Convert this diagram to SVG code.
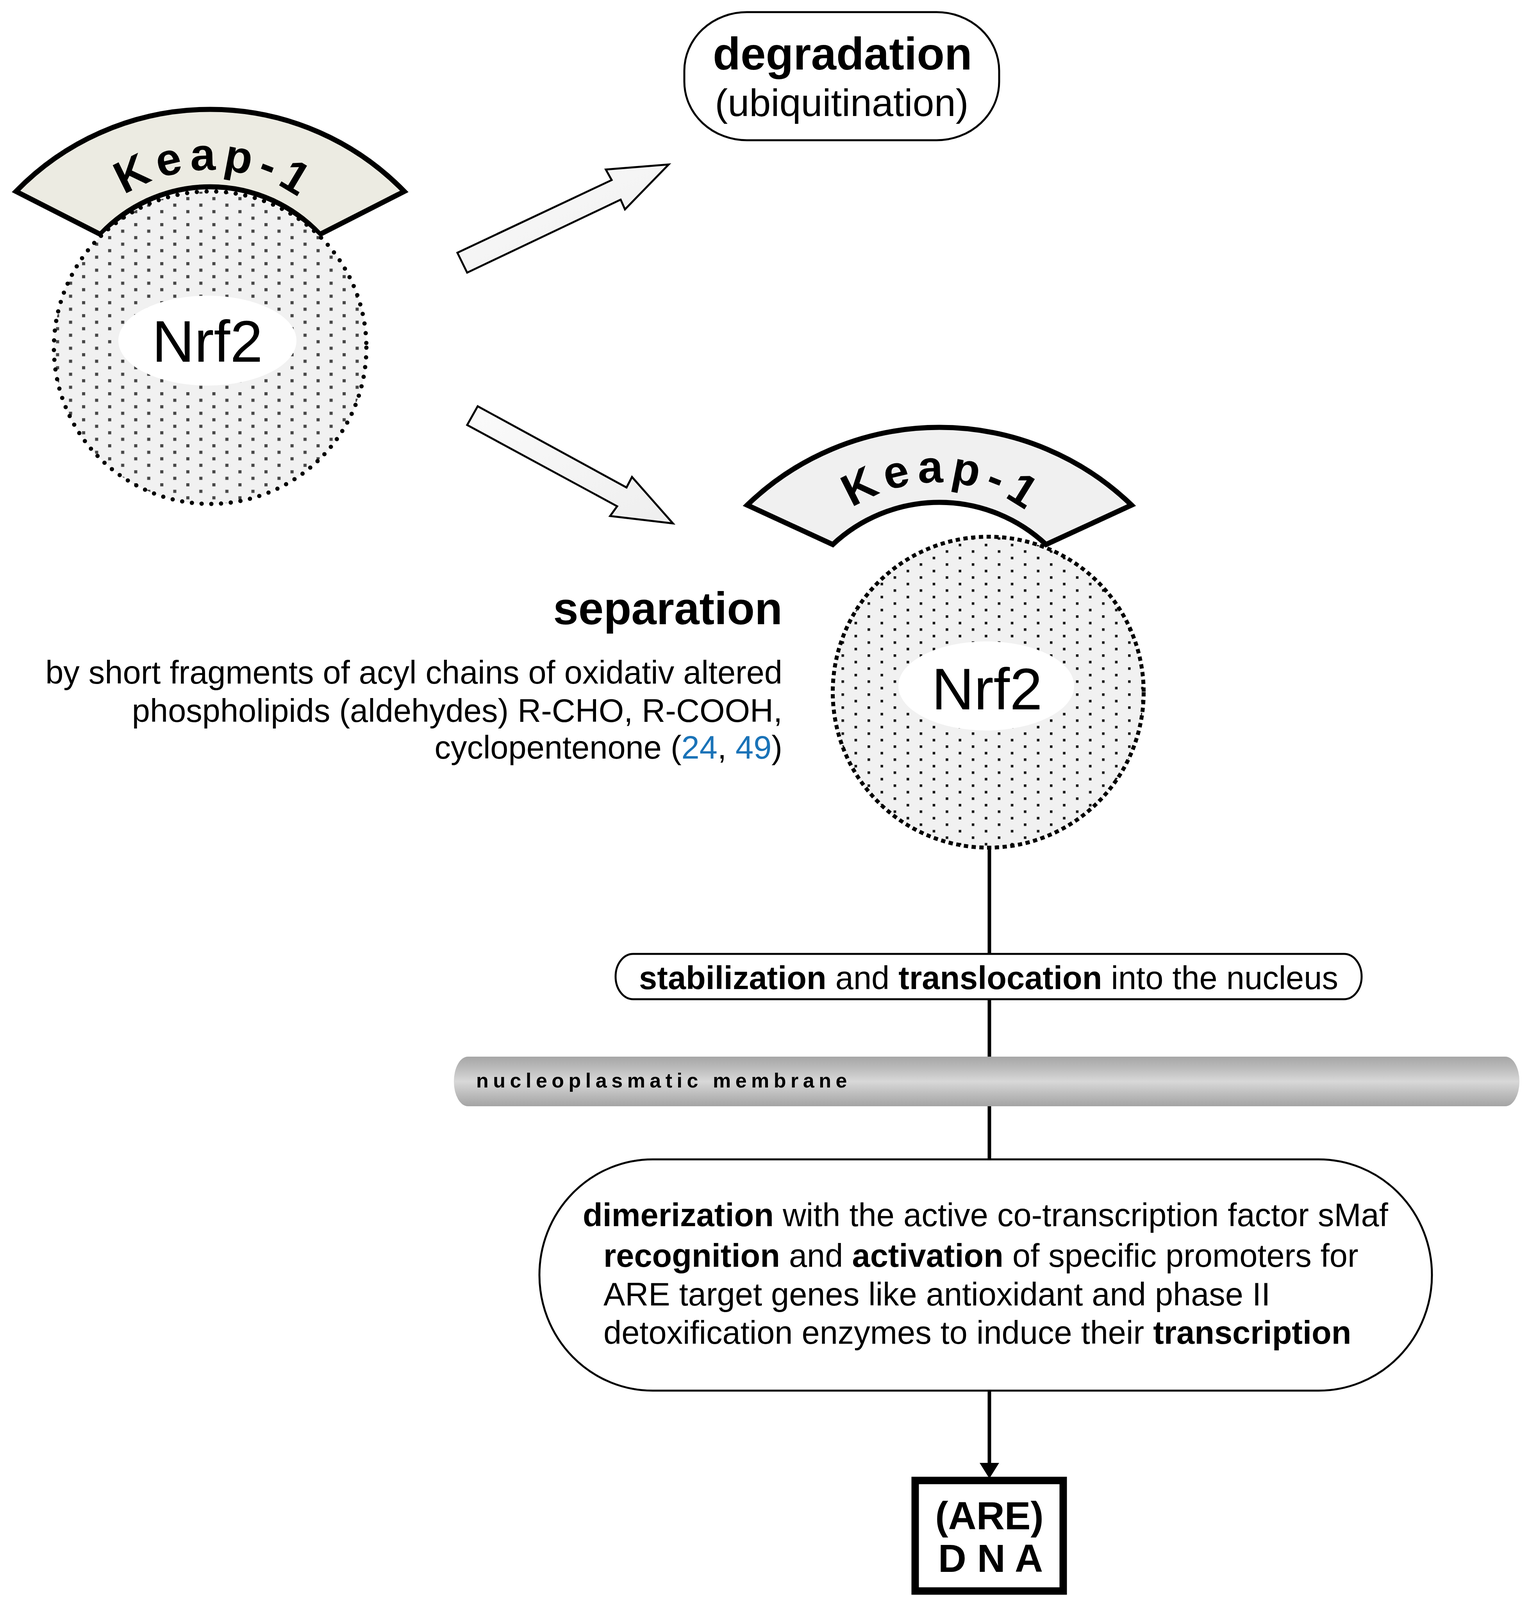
<svg xmlns="http://www.w3.org/2000/svg" width="3935" height="4119" viewBox="0 0 3935 4119">
<style>
text{font-family:"Liberation Sans",Arial,sans-serif;fill:#000}
.b{font-weight:bold}
.keap{font-size:116px;font-weight:bold;letter-spacing:17px}
.nrf{font-size:150px}
.body{font-size:83px}
.box{fill:#fff;stroke:#000;stroke-width:5}
.conn{stroke:#000;stroke-width:9;fill:none}
.blk{stroke:#000;stroke-width:5;stroke-linejoin:miter;fill:url(#arrowFill)}
.ref{fill:#1a73b8}
</style>
<defs>
<pattern id="dotsL" patternUnits="userSpaceOnUse" width="66.7" height="33.3" x="10" y="5">
<rect x="0" y="0" width="8" height="8" fill="#474747"/>
<rect x="33.3" y="16.7" width="8" height="8" fill="#474747"/>
</pattern>
<pattern id="dotsR" patternUnits="userSpaceOnUse" width="66.7" height="33.3" x="20" y="10">
<rect x="0" y="0" width="6.5" height="6.5" fill="#111"/>
<rect x="33.3" y="16.7" width="6.5" height="6.5" fill="#111"/>
</pattern>
<linearGradient id="arrowFill" x1="0" y1="0" x2="1" y2="1">
<stop offset="0" stop-color="#fbfbfb"/>
<stop offset="1" stop-color="#eeeeee"/>
</linearGradient>
<linearGradient id="memFill" x1="0" y1="0" x2="0" y2="1">
<stop offset="0" stop-color="#a6a6a6"/>
<stop offset="0.2" stop-color="#b8b8b8"/>
<stop offset="0.5" stop-color="#d8d8d8"/>
<stop offset="0.8" stop-color="#b8b8b8"/>
<stop offset="1" stop-color="#a4a4a4"/>
</linearGradient>
<marker id="ah" markerUnits="userSpaceOnUse" markerWidth="40" markerHeight="50" viewBox="0 0 40 50" refX="0" refY="25" orient="auto">
<path d="M0,0 L40,25 L0,50 Z" fill="#000"/>
</marker>
<path id="arcL" d="M144.1,765.5 A400,400 0 0,1 931.9,765.5" fill="none"/>
<path id="arcR" d="M2015.9,1557.3 A390,390 0 0,1 2784.1,1557.3" fill="none"/>
</defs>
<rect width="3935" height="4119" fill="#fff"/>

<g id="connectors">
<polygon class="blk" points="1171,647 1566,461 1551,434 1712,421 1600,536 1589,511 1196,698"/>
<polygon class="blk" points="1223,1040 1604,1248 1618,1221 1723,1340 1562,1321 1580,1296 1196,1088"/>
<line class="conn" x1="2533" y1="2168" x2="2533" y2="2444"/>
<line class="conn" x1="2533" y1="2556" x2="2533" y2="2707"/>
<line class="conn" x1="2533" y1="2830" x2="2533" y2="2970"/>
<line class="conn" x1="2533" y1="3558" x2="2533" y2="3745" marker-end="url(#ah)"/>
</g>

<g id="keap1-nrf2-bound">
<path d="M41,490 A693,693 0 0,1 1035,490 L819,600 A385,385 0 0,0 257,600 Z" fill="#ecebe2" stroke="#000" stroke-width="13" stroke-linejoin="miter"/>
<text class="keap"><textPath href="#arcL" startOffset="570" text-anchor="middle">Keap-1</textPath></text>
<circle cx="538" cy="890" r="400" fill="#f1f1f1"/>
<circle cx="538" cy="890" r="400" fill="url(#dotsL)"/>
<circle cx="538" cy="890" r="400" fill="none" stroke="#000" stroke-width="11" stroke-linecap="round" stroke-dasharray="0 25"/>
<ellipse cx="531" cy="872" rx="228" ry="115" fill="#fff"/>
<text class="nrf" x="531" y="926" text-anchor="middle">Nrf2</text>
</g>

<g id="degradation">
<rect class="box" x="1752" y="31" width="806" height="328" rx="160" ry="150"/>
<text class="b" x="2157" y="178" font-size="116" text-anchor="middle">degradation</text>
<text x="2155" y="297" font-size="99" text-anchor="middle">(ubiquitination)</text>
</g>

<g id="keap1-nrf2-separated">
<path d="M1913,1293 A708,708 0 0,1 2897,1293 L2678,1394 A399,399 0 0,0 2132,1394 Z" fill="#f0f0f0" stroke="#000" stroke-width="13" stroke-linejoin="miter"/>
<text class="keap"><textPath href="#arcR" startOffset="557" text-anchor="middle">Keap-1</textPath></text>
<circle cx="2530" cy="1772" r="398" fill="#f1f1f1"/>
<circle cx="2530" cy="1772" r="398" fill="url(#dotsR)"/>
<circle cx="2530" cy="1772" r="398" fill="none" stroke="#000" stroke-width="10" stroke-dasharray="11 8.9"/>
<ellipse cx="2525" cy="1756" rx="225" ry="114" fill="#fff"/>
<text class="nrf" x="2527" y="1816" text-anchor="middle">Nrf2</text>
</g>

<g id="separation">
<text class="b" x="2003" y="1598" font-size="116" text-anchor="end">separation</text>
<text class="body" x="2003" y="1750" text-anchor="end">by short fragments of acyl chains of oxidativ altered</text>
<text class="body" x="2003" y="1848" text-anchor="end">phospholipids (aldehydes) R-CHO, R-COOH,</text>
<text class="body" x="2003" y="1942" text-anchor="end">cyclopentenone (<tspan class="ref">24</tspan>, <tspan class="ref">49</tspan>)</text>
</g>

<g id="stabilization">
<rect class="box" x="1576" y="2442" width="1910" height="116" rx="45" ry="58"/>
<text x="2531" y="2532" font-size="83" text-anchor="middle"><tspan class="b">stabilization</tspan> and <tspan class="b">translocation</tspan> into the nucleus</text>
</g>

<g id="membrane">
<rect x="1162" y="2705" width="2728" height="127" rx="36" ry="63" fill="url(#memFill)"/>
<text class="b" x="1219" y="2784" font-size="52" letter-spacing="11.5" fill="#111">nucleoplasmatic membrane</text>
</g>

<g id="dimerization">
<rect class="box" x="1381" y="2968" width="2285" height="592" rx="290" ry="296"/>
<text class="body" x="1492" y="3139"><tspan class="b">dimerization</tspan> with the active co-transcription factor sMaf</text>
<text class="body" x="1545" y="3243"><tspan class="b">recognition</tspan> and <tspan class="b">activation</tspan> of specific promoters for</text>
<text class="body" x="1545" y="3342">ARE target genes like antioxidant and phase II</text>
<text class="body" x="1545" y="3440">detoxification enzymes to induce their <tspan class="b">transcription</tspan></text>
</g>

<g id="dna">
<rect x="2343" y="3790" width="379" height="283" fill="#fff" stroke="#000" stroke-width="19"/>
<text class="b" x="2533" y="3915" font-size="100" text-anchor="middle">(ARE)</text>
<text class="b" x="2536" y="4024" font-size="100" text-anchor="middle">D N A</text>
</g>
</svg>
